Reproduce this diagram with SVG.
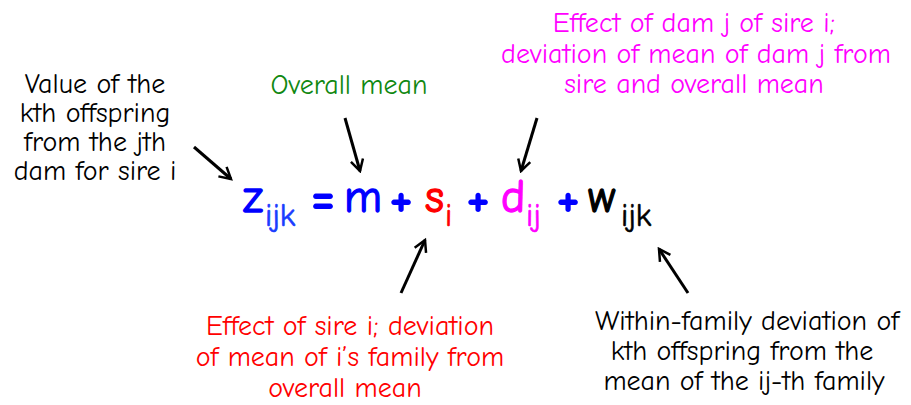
<svg xmlns="http://www.w3.org/2000/svg" width="911" height="405" viewBox="0 0 911 405">
<defs>
<style>
text{font-family:"Comic Sans MS","Comic Neue","Open Sans","DejaVu Sans",sans-serif;}
.lbl{font-size:28px;text-anchor:middle;}
.eq{font-size:46px;stroke-width:1.3px;}
.op{font-size:56px;font-weight:bold;text-anchor:middle;}
.sub{font-size:32px;stroke-width:0.6px;}
.blk{fill:#000;stroke:#000;}
.lbl.blk{stroke:none;}
.grn{fill:#118811;}
.mag{fill:#ff00ff;stroke:#ff00ff;}
.lbl.mag{stroke:none;}
.red{fill:#ff0000;stroke:#ff0000;}
.lbl.red{stroke:none;}
.blu{fill:#0000ff;stroke:#0000ff;}
.op.blu{stroke:none;}
.sb{fill:#1a3cff;stroke:#1a3cff;}
.arrow{stroke:#000;stroke-width:3;fill:none;marker-end:url(#ah);}
</style>
<marker id="ah" viewBox="0 0 12 12" refX="10" refY="6" markerWidth="5" markerHeight="5" markerUnits="strokeWidth" orient="auto">
<path d="M1,1 L10,6 L1,11" fill="none" stroke="#000" stroke-width="2"/>
</marker>
</defs>
<rect width="911" height="405" fill="#fff"/>
<g id="label-value">
<text class="lbl blk" x="95" y="93">Value of the</text>
<text class="lbl blk" x="95" y="122">kth offspring</text>
<text class="lbl blk" x="95" y="151">from the jth</text>
<text class="lbl blk" x="95" y="180">dam for sire i</text>
</g>
<g id="label-mean">
<text class="lbl grn" x="349" y="94">Overall mean</text>
</g>
<g id="label-dam">
<text class="lbl mag" x="694" y="32">Effect of dam j of sire i;</text>
<text class="lbl mag" x="696" y="63">deviation of mean of dam j from</text>
<text class="lbl mag" x="694" y="93">sire and overall mean</text>
</g>
<g id="label-sire">
<text class="lbl red" x="350" y="335">Effect of sire i; deviation</text>
<text class="lbl red" x="350" y="366">of mean of i’s family from</text>
<text class="lbl red" x="345" y="397">overall mean</text>
</g>
<g id="label-within">
<text class="lbl blk" x="747" y="330">Within-family deviation of</text>
<text class="lbl blk" x="742" y="360">kth offspring from the</text>
<text class="lbl blk" x="744" y="390">mean of the ij-th family</text>
</g>
<g id="equation">
<text class="eq blu" x="243" y="212">z</text>
<text class="sub sb" x="265" y="226">ijk</text>
<text class="op blu" x="323" y="215">=</text>
<text class="eq blu" x="344" y="212">m</text>
<text class="op blu" x="401" y="216">+</text>
<text class="eq red" x="425" y="212">s</text>
<text class="sub red" x="445" y="226">i</text>
<text class="op blu" x="478" y="216">+</text>
<text class="eq mag" x="501" y="212">d</text>
<text class="sub mag" x="526" y="226">ij</text>
<text class="op blu" x="568" y="216">+</text>
<text class="eq blk" x="588" y="212">w</text>
<text class="sub blk" x="621" y="226">ijk</text>
</g>
<g id="connectors">
<line class="arrow" x1="194" y1="147" x2="231" y2="179"/>
<line class="arrow" x1="345" y1="118" x2="360" y2="171"/>
<line class="arrow" x1="537" y1="118" x2="521" y2="171"/>
<line class="arrow" x1="401" y1="293" x2="425" y2="240"/>
<line class="arrow" x1="688" y1="293" x2="659" y2="249"/>
</g>
</svg>
